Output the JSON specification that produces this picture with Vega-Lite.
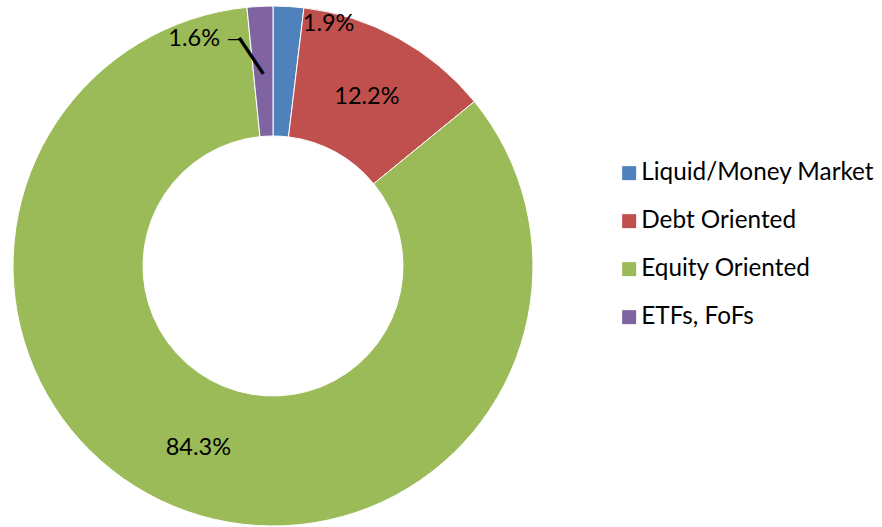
{
  "$schema": "https://vega.github.io/schema/vega-lite/v6.json",
  "width": 546,
  "height": 532,
  "padding": 0,
  "autosize": {"type": "pad"},
  "background": "white",
  "config": {"view": {"stroke": null}, "font": "Lato"},
  "data": {
    "values": [
      {"idx": 1, "category": "Liquid/Money Market", "share": 1.9, "label": "1.9%"},
      {"idx": 2, "category": "Debt Oriented", "share": 12.2, "label": "12.2%"},
      {"idx": 3, "category": "Equity Oriented", "share": 84.3, "label": "84.3%"},
      {"idx": 4, "category": "ETFs, FoFs", "share": 1.6, "label": "1.6%"}
    ]
  },
  "encoding": {
    "theta": {"field": "share", "type": "quantitative", "stack": true},
    "order": {"field": "idx", "type": "quantitative"}
  },
  "layer": [
    {
      "mark": {"type": "arc", "outerRadius": 260, "innerRadius": 130, "stroke": "#ffffff", "strokeWidth": 1},
      "encoding": {
        "color": {
          "field": "category",
          "type": "nominal",
          "sort": ["Liquid/Money Market", "Debt Oriented", "Equity Oriented", "ETFs, FoFs"],
          "scale": {
            "domain": ["Liquid/Money Market", "Debt Oriented", "Equity Oriented", "ETFs, FoFs"],
            "range": ["#4F81BD", "#C0504D", "#9BBB59", "#8064A2"]
          },
          "legend": {
            "title": null,
            "orient": "none",
            "legendX": 617,
            "legendY": 161,
            "padding": 0,
            "symbolType": "square",
            "symbolSize": 196,
            "symbolStrokeWidth": 0,
            "labelFontSize": 24.3,
            "labelFont": "Lato",
            "labelColor": "#000000",
            "labelOffset": 0,
            "rowPadding": 23,
            "labelLimit": 400
          }
        }
      }
    },
    {
      "mark": {"type": "text", "radius": 195, "fontSize": 23.5, "font": "Lato", "color": "#000000", "align": "center", "baseline": "middle", "dy": 2},
      "encoding": {
        "text": {"condition": {"test": "datum.idx == 2 || datum.idx == 3", "field": "label"}, "value": ""}
      }
    },
    {
      "mark": {"type": "text", "radius": 195, "fontSize": 23.5, "font": "Lato", "color": "#000000", "align": "center", "baseline": "middle", "dx": 44, "dy": -47},
      "encoding": {
        "text": {"condition": {"test": "datum.idx == 1", "field": "label"}, "value": ""}
      }
    },
    {
      "mark": {"type": "text", "radius": 195, "fontSize": 23.5, "font": "Lato", "color": "#000000", "align": "center", "baseline": "middle", "dx": -69, "dy": -32},
      "encoding": {
        "text": {"condition": {"test": "datum.idx == 4", "field": "label"}, "value": ""}
      }
    },
    {
      "mark": {"type": "text", "radius": 195, "fontSize": 15, "font": "DejaVu Sans", "color": "#000000", "align": "center", "baseline": "middle", "dx": -28.5, "dy": -32.5},
      "encoding": {
        "text": {"condition": {"test": "datum.idx == 4", "value": "—"}, "value": ""}
      }
    },
    {
      "mark": {"type": "text", "radius": 195, "fontSize": 48, "font": "DejaVu Sans", "color": "#000000", "align": "center", "baseline": "middle", "dx": -19.3, "dy": 0.6, "angle": 56.3},
      "encoding": {
        "text": {"condition": {"test": "datum.idx == 4", "value": "—"}, "value": ""}
      }
    }
  ]
}
